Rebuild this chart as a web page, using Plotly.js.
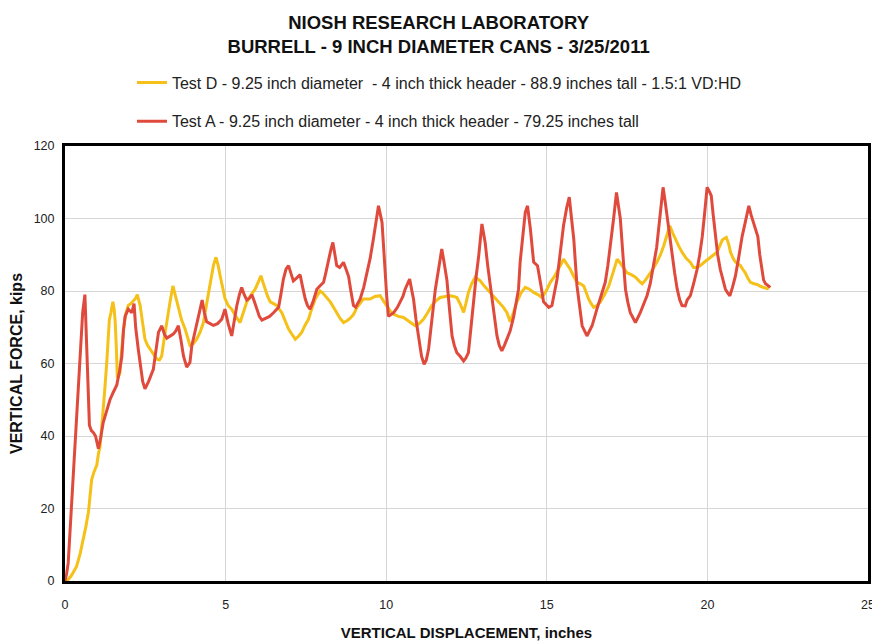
<!DOCTYPE html>
<html>
<head>
<meta charset="utf-8">
<script src="https://cdn.plot.ly/plotly-3.0.1.min.js"></script>
<style>html,body{margin:0;padding:0;background:#fff;}#chart{width:872px;height:643px;}</style>
</head>
<body>
<div id="chart"></div>
<script>
// Test A (red) - displacement (inches) and force (kips)
const testA_x = [0,0.05,0.1,0.2,0.31,0.45,0.55,0.62,0.68,0.72,0.76,0.82,0.88,0.95,1.04,1.1,1.19,1.3,1.4,1.5,1.61,1.7,1.77,1.82,1.87,1.97,2.08,2.15,2.2,2.28,2.34,2.42,2.49,2.6,2.75,2.85,2.91,3.01,3.1,3.17,3.27,3.37,3.45,3.53,3.6,3.69,3.79,3.89,3.95,4.1,4.2,4.27,4.34,4.41,4.52,4.62,4.75,4.88,4.98,5.08,5.19,5.27,5.35,5.43,5.5,5.58,5.66,5.74,5.82,5.9,5.97,6.05,6.13,6.25,6.37,6.49,6.65,6.72,6.8,6.88,6.96,7.03,7.11,7.2,7.32,7.4,7.48,7.55,7.63,7.72,7.84,7.95,8.05,8.12,8.2,8.28,8.34,8.4,8.46,8.55,8.67,8.75,8.83,8.9,8.98,9.05,9.19,9.3,9.4,9.5,9.6,9.68,9.76,9.82,9.87,9.92,9.97,10.02,10.07,10.15,10.23,10.35,10.44,10.52,10.59,10.67,10.73,10.8,10.85,10.93,11.01,11.1,11.18,11.25,11.32,11.42,11.53,11.63,11.73,11.8,11.89,11.97,12.05,12.12,12.2,12.3,12.41,12.48,12.56,12.64,12.72,12.8,12.88,12.94,12.98,13.03,13.08,13.16,13.24,13.35,13.45,13.52,13.6,13.68,13.76,13.86,13.97,14.05,14.12,14.17,14.25,14.33,14.4,14.49,14.59,14.71,14.8,14.9,15.06,15.16,15.32,15.42,15.52,15.62,15.7,15.77,15.84,15.94,16.02,16.1,16.25,16.41,16.56,16.7,16.82,16.9,16.98,17.08,17.17,17.23,17.29,17.37,17.45,17.52,17.6,17.76,17.91,18.02,18.12,18.22,18.33,18.42,18.48,18.55,18.62,18.68,18.74,18.82,18.9,18.98,19.06,19.14,19.21,19.31,19.37,19.47,19.57,19.68,19.76,19.84,19.92,19.99,20.06,20.12,20.18,20.25,20.32,20.4,20.48,20.56,20.63,20.7,20.78,20.87,20.97,21.08,21.18,21.29,21.36,21.44,21.5,21.57,21.63,21.7,21.75,21.81,21.88,21.96];
const testA_y = [0,2,5,20,37,60,74,79,62,50,43,41.5,41,40,36.5,39,43.7,47,50,52,54,58,62,69,73,75,74,76.5,70,64,60.4,55,53,55,58.4,64,68.6,70.4,68,67,67.5,68.1,69,70.4,67,62,59,60.3,65,71,75,77.5,74,71.5,71,70.5,71,72.2,75,71,67.6,72,76,79,81,79,77.5,78,79,77,75,73,72,72.5,73,74,75.5,79,83.3,86,87,85,82.8,83.5,84.5,81,77.8,76,75,77,80.5,81.5,82.4,85,88.8,91.5,93.4,90,87,86.5,87.9,86,84,80,76,75.5,77.8,81,85,89,94.3,99,103.5,101,98.9,92,84,78,73,73.5,74,75.5,77,78.5,80.5,82,83.3,80,77.8,72,66.7,62,59.8,61,64,72,80.5,86,91.6,88,83,75,67.6,65,63,62,60.7,61.5,63,70,77.8,84,89.7,95,98.5,96,93.4,87,81.4,74,67.6,65,63.5,65,66.7,69,73,77,80.5,88,95,101.7,103.5,97,88,87,82.4,77,75.5,76,83.3,90,98,103,105.9,100,94.3,81.4,75,70.4,67.6,70.4,75,79,82.4,87,92.5,100,107.2,104,99.9,90,80.5,77,74,71.3,74,76.5,78.7,82,87,92,97,103,108.6,105,100.8,96,90.7,85,80.5,77.5,76,75.9,77.5,78.7,82,86,90,95,102,108.6,107.5,106.3,101,95,90,86,83,80.5,79.5,78.7,81,84,89,95,99,103.5,101,98.9,97,95,90,86,83,82,81.5,81];

// Test D (yellow)
const testD_x = [0,0.1,0.2,0.36,0.47,0.57,0.65,0.73,0.78,0.83,0.9,0.99,1.04,1.09,1.14,1.19,1.24,1.3,1.34,1.38,1.43,1.49,1.53,1.56,1.6,1.63,1.67,1.71,1.76,1.82,1.9,1.97,2.05,2.13,2.2,2.25,2.3,2.34,2.42,2.49,2.57,2.65,2.75,2.86,2.94,3.01,3.09,3.17,3.27,3.36,3.45,3.53,3.63,3.74,3.82,3.89,4.0,4.1,4.2,4.31,4.42,4.52,4.62,4.7,4.77,4.83,4.9,4.98,5.08,5.19,5.32,5.45,5.55,5.66,5.8,5.92,6.02,6.1,6.16,6.23,6.31,6.39,6.49,6.59,6.75,6.85,6.96,7.07,7.17,7.27,7.37,7.47,7.58,7.68,7.79,7.87,7.94,8.02,8.1,8.26,8.36,8.46,8.56,8.67,8.78,8.88,8.98,9.09,9.19,9.29,9.5,9.65,9.81,9.9,10.02,10.12,10.23,10.38,10.54,10.72,10.9,11.03,11.16,11.29,11.42,11.55,11.68,11.84,11.99,12.1,12.2,12.3,12.41,12.48,12.56,12.66,12.77,12.85,12.93,13.04,13.14,13.27,13.4,13.52,13.65,13.76,13.86,13.96,14.07,14.2,14.33,14.46,14.59,14.72,14.85,14.98,15.11,15.24,15.37,15.45,15.52,15.62,15.73,15.84,15.94,16.05,16.15,16.23,16.3,16.38,16.46,16.56,16.67,16.8,16.93,17.06,17.19,17.26,17.34,17.42,17.5,17.63,17.76,17.87,17.97,18.07,18.17,18.3,18.43,18.54,18.64,18.74,18.83,18.92,19.0,19.1,19.21,19.34,19.47,19.57,19.68,19.78,19.91,20.04,20.17,20.3,20.38,20.46,20.53,20.59,20.66,20.72,20.8,20.87,20.95,21.03,21.1,21.18,21.26,21.34,21.45,21.55,21.65,21.75,21.83,21.91];
const testD_y = [0,0.4,1.5,4,7.5,11.5,15,19,23,28,30,32,35,37,42,46.5,53,60.3,66,72,74,77,75,72,64,56,56.5,57.5,63,69.5,74,76,76.5,77.3,78,79,77.5,76,71,66.7,65,64,62.5,61.2,61,62,67,72,77,81.4,78,75,72,69.5,67,65,65.5,66.7,68.5,71.3,77,82.4,87,89.3,87,84.2,81,78,76,75,73,71.3,74,77,79,80.5,82.5,84.2,82.5,80.5,78.5,77,76.5,76,74,72,69.5,68,66.7,67.5,68.6,70.5,72.2,75,77.8,79,80,79.5,78.7,77,75.5,74,72.5,71.3,71.8,72.5,73.5,75.5,76.8,77.8,77.8,78.5,78.7,77.5,76,74.5,73.6,73,72.7,71.5,70.4,71,72.2,74,76,77.3,78.2,78.5,78.7,78.5,78.2,76.5,74.1,76.5,79.6,82,83.8,83.3,82.8,81.5,80.5,79,77.8,76.5,75.5,74,71.5,74,77,79.5,81,80.5,79.6,79,78.2,80,82.4,84,86,87.5,88.8,87.5,86,84,82.4,82,81.4,79.5,77.8,76.5,75.5,76,77,79,81.4,85,88.8,88,87,86,85,84.5,83.8,82.8,82,83,84.2,86,88,90,92.5,95.5,98,96,94.3,92.5,90.7,89,87.9,86.5,86.5,87,88,88.8,89.8,90.7,92.5,94,94.5,94.8,93,90.7,89,88,87.5,87,86,85,83.5,82.4,82,81.8,81.3,81,80.8,80.5];

const seriesNames = [
  "Test D - 9.25 inch diameter  - 4 inch thick header - 88.9 inches tall - 1.5:1 VD:HD",
  "Test A - 9.25 inch diameter - 4 inch thick header - 79.25 inches tall"
];
const xTicks = [0, 5, 10, 15, 20, 25];
const yTicks = [0, 20, 40, 60, 80, 100, 120];

const FONT = "Liberation Sans, Arial, sans-serif";

const traces = [
  {x: testD_x, y: testD_y, name: seriesNames[0], mode: "lines", legendgroup: "d",
   line: {color: "#f5c018", width: 3}},
  {x: testA_x, y: testA_y, name: seriesNames[1], mode: "lines", legendgroup: "a",
   line: {color: "#e04a3c", width: 3}}
];

const layout = {
  width: 872, height: 643,
  paper_bgcolor: "#ffffff", plot_bgcolor: "#ffffff",
  margin: {l: 65, r: 4, t: 146, b: 62, autoexpand: false},
  font: {family: FONT, color: "#222"},
  title: {
    text: "<b>NIOSH RESEARCH LABORATORY<br>BURRELL - 9 INCH DIAMETER CANS - 3/25/2011</b>",
    font: {family: FONT, size: 18.5, color: "#111"},
    x: 0.503, xanchor: "center", xref: "container",
    y: 0.955, yanchor: "top", yref: "container"
  },
  showlegend: true,
  legend: {
    xref: "paper", yref: "paper",
    x: 0.0834, xanchor: "left", y: 1.185, yanchor: "top",
    bgcolor: "rgba(0,0,0,0)", borderwidth: 0,
    font: {family: FONT, size: 16, color: "#222"},
    tracegroupgap: 15, traceorder: "grouped"
  },
  xaxis: {
    range: [0, 25], tickvals: xTicks, ticktext: xTicks.map(String),
    automargin: true, ticklabeloverflow: "allow", ticklabelstandoff: 10,
    showgrid: true, gridcolor: "#d6d6d6", gridwidth: 1,
    zeroline: false, showline: true, linecolor: "#000", linewidth: 3, mirror: true,
    ticks: "", tickfont: {family: FONT, size: 12.5, color: "#222"},
    title: {text: "<b>VERTICAL DISPLACEMENT, inches</b>", font: {family: FONT, size: 15, color: "#111"}, standoff: 17}
  },
  yaxis: {
    range: [0, 120], tickvals: yTicks, ticktext: yTicks.map(String),
    automargin: true, ticklabelstandoff: 5,
    showgrid: true, gridcolor: "#d6d6d6", gridwidth: 1,
    zeroline: false, showline: true, linecolor: "#000", linewidth: 3, mirror: true,
    ticks: "", tickfont: {family: FONT, size: 12.5, color: "#222"},
    title: {text: "<b>VERTICAL FORCE, kips</b>", font: {family: FONT, size: 16, color: "#111"}, standoff: 8}
  }
};

Plotly.newPlot("chart", traces, layout, {displayModeBar: false, staticPlot: true});
</script>
</body>
</html>
